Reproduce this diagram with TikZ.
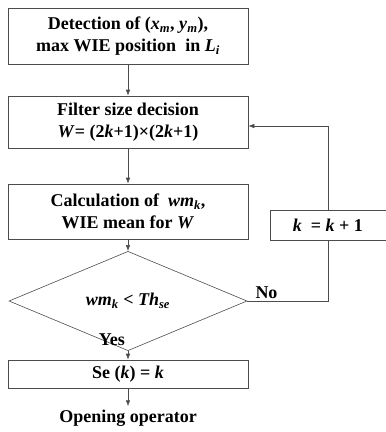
\documentclass[tikz,border=0pt]{standalone}
\usepackage{fontspec}
\setmainfont{Liberation Serif}
\usetikzlibrary{shapes.geometric,arrows.meta}
\newcommand{\vb}[1]{\textbf{\textit{#1}}}
\newcommand{\sbi}[1]{\textsubscript{\textbf{\textit{#1}}}}
\tikzset{
  box/.style={draw=black!70,line width=0.6bp,minimum width=240bp,inner sep=0pt,align=center},
  cond/.style={draw=black!70,line width=0.6bp,diamond,minimum width=238bp,minimum height=55bp,inner sep=0pt},
  flow/.style={draw=black!70,line width=0.6bp,-{Latex[length=6bp,width=4.5bp]}},
  every node/.style={font=\fontsize{18bp}{22bp}\selectfont\bfseries}
}
\begin{document}
\begin{tikzpicture}[x=1bp,y=-1bp]
\useasboundingbox (0,0) rectangle (386,432);
\node[box,minimum height=56bp] (det) at (128,36) {Detection of (\vb{x}\sbi{m}, \vb{y}\sbi{m}),\\max WIE position\ \ in \vb{L}\sbi{i}};
\node[box,minimum height=52bp] (filt) at (128,122) {Filter size decision\\\vb{W}= (2\vb{k}+1)×(2\vb{k}+1)};
\node[box,minimum height=55bp] (calc) at (128,211.5) {Calculation of\ \ \vb{wm}\sbi{k},\\WIE mean for \vb{W}};
\node[cond] (dec) at (128,301) {\vb{wm}\sbi{k} < \vb{Th}\sbi{se}};
\node[box,minimum width=116bp,minimum height=30bp] (inc) at (328,225) {\vb{k}\ \ = \vb{k} + 1};
\node[box,minimum height=28bp] (se) at (128,374) {Se (\vb{k}) = \vb{k}};
\node (open) at (128,418) {Opening operator};
\draw[flow] (det) -- (filt);
\draw[flow] (filt) -- (calc);
\draw[flow] (calc) -- (dec);
\draw[flow] (dec) -- (se);
\node[anchor=east,inner sep=1bp] (yes) at (126,340) {Yes};
\draw[flow] (se) -- (open);
\draw[draw=black!70,line width=0.6bp] (dec.east) -- (inc.south |- dec.east) -- (inc.south);
\node[above right,inner sep=2bp,xshift=6bp] (no) at (dec.east) {No};
\draw[flow] (inc.north) |- ([yshift=-4bp]filt.east);
\end{tikzpicture}
\end{document}
